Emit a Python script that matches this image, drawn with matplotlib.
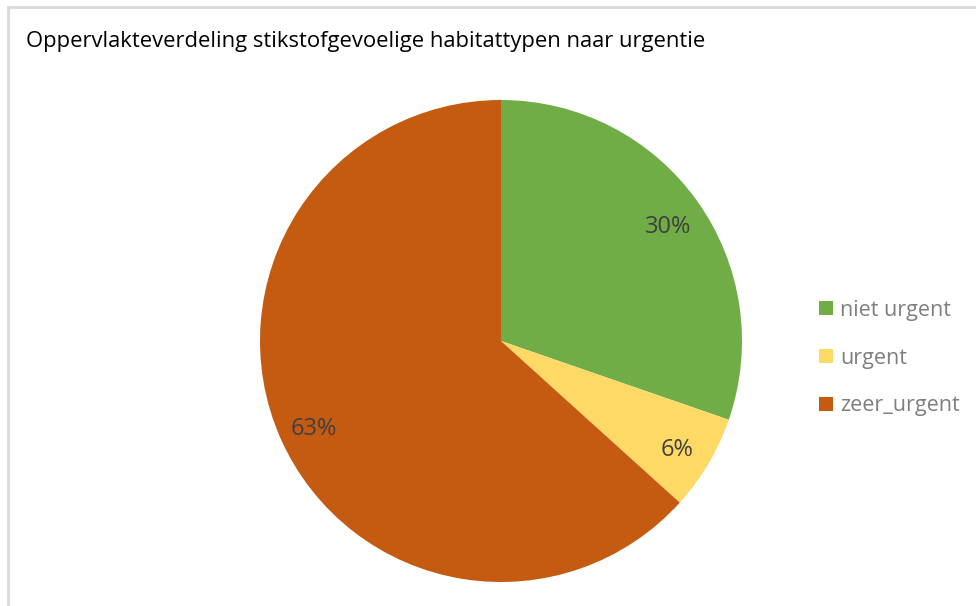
import matplotlib
matplotlib.use("Agg")
from matplotlib import pyplot as plt
from matplotlib.patches import Rectangle

# data
categorieen = ["niet urgent", "urgent", "zeer_urgent"]
aandelen    = [30.3, 6.4, 63.3]
kleuren     = ["#70AD47", "#FFD966", "#C55A11"]
titel       = "Oppervlakteverdeling stikstofgevoelige habitattypen naar urgentie"

plt.rcParams['font.family'] = ['Open Sans', 'DejaVu Sans']

fig = plt.figure(figsize=(9.76, 6.06), dpi=100)

# lichtgrijze kader rond de grafiek
fig.patches.append(Rectangle((7.5 / 976, -0.1), 1.2, 1 - 6.5 / 606 + 0.1,
                             transform=fig.transFigure, fill=False,
                             edgecolor="#d9d9d9", linewidth=2))

fig.text(26 / 976, 1 - 42 / 606, titel, fontsize=15.8, color="#000000",
         ha="left", va="center")

# taartdiagram: middelpunt (501, 341), straal 241 px
ax = fig.add_axes([(501 - 241) / 976, (606 - 341 - 241) / 606, 482 / 976, 482 / 606])
wedges, _, pcts = ax.pie(aandelen, colors=kleuren, startangle=90, counterclock=False,
                         autopct="%1.0f%%", pctdistance=0.85,
                         wedgeprops=dict(linewidth=0),
                         textprops=dict(color="#404040", fontsize=17))
for t in pcts:
    x, y = t.get_position()
    t.set_position((x, y - 0.02))
ax.set_xlim(-1, 1)
ax.set_ylim(-1, 1)
ax.set_aspect("equal")
ax.axis("off")

leg = fig.legend(wedges, categorieen, loc="center left",
                 bbox_to_anchor=(800 / 976, 1 - 358 / 606),
                 frameon=False, fontsize=15.5, handlelength=0.65, handleheight=0.65,
                 handletextpad=0.3, labelspacing=1.25)
for t in leg.get_texts():
    t.set_color("#7f7f7f")

fig.savefig("out.png", dpi=100)
